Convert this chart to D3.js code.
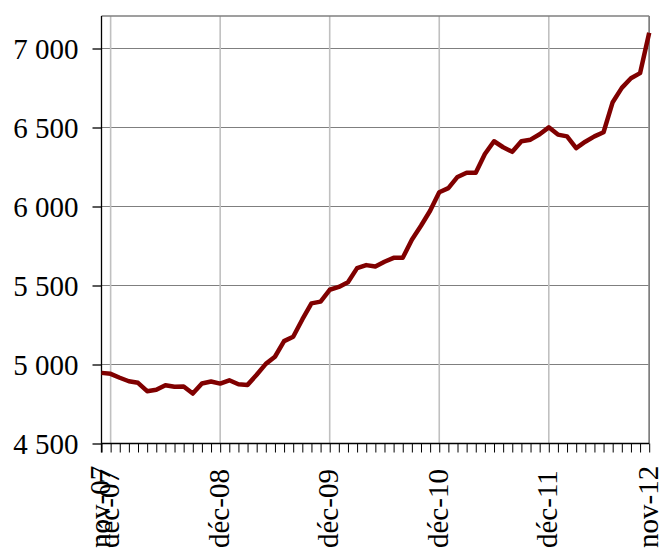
<!DOCTYPE html>
<html>
<head>
<meta charset="utf-8">
<script src="https://cdn.jsdelivr.net/npm/d3@7"></script>
<style>
  html, body { margin: 0; padding: 0; background: #fff; }
  svg { display: block; }
  text { font-family: "Liberation Serif", "Times New Roman", serif; fill: #000; }
</style>
</head>
<body>
<script>
const months = [
  "nov-07","déc-07",
  "janv-08","févr-08","mars-08","avr-08","mai-08","juin-08","juil-08","août-08","sept-08","oct-08","nov-08","déc-08",
  "janv-09","févr-09","mars-09","avr-09","mai-09","juin-09","juil-09","août-09","sept-09","oct-09","nov-09","déc-09",
  "janv-10","févr-10","mars-10","avr-10","mai-10","juin-10","juil-10","août-10","sept-10","oct-10","nov-10","déc-10",
  "janv-11","févr-11","mars-11","avr-11","mai-11","juin-11","juil-11","août-11","sept-11","oct-11","nov-11","déc-11",
  "janv-12","févr-12","mars-12","avr-12","mai-12","juin-12","juil-12","août-12","sept-12","oct-12","nov-12"
];
const values = [
  4947, 4941,
  4916, 4894, 4884, 4831, 4840, 4869, 4859, 4861, 4816, 4880, 4892, 4879,
  4900, 4875, 4871, 4935, 5004, 5049, 5148, 5176, 5285, 5387, 5398, 5473,
  5491, 5521, 5610, 5629, 5620, 5650, 5675, 5675, 5790, 5878, 5973, 6090,
  6116, 6187, 6214, 6214, 6332, 6413, 6375, 6346, 6413, 6423, 6457, 6501,
  6455, 6444, 6370, 6410, 6444, 6470, 6660, 6751, 6812, 6844, 7100
];
const shownLabels = ["nov-07","déc-07","déc-08","déc-09","déc-10","déc-11","nov-12"];
const gridMonths = ["déc-07","déc-08","déc-09","déc-10","déc-11","nov-12"];
const yTicks = [4500, 5000, 5500, 6000, 6500, 7000];

const W = 661, H = 553;
const pLeft = 101.5, pRight = 649.2, pTop = 16, pBottom = 443.5;

const svg = d3.select("body").append("svg").attr("width", W).attr("height", H);

const x = d3.scalePoint().domain(months).range([pLeft, pRight]);
const y = d3.scaleLinear().domain([4500, 7200]).range([pBottom, 16.9]);

const fmt = v => d3.format(",")(v).replace(",", " ");

// horizontal gridlines
svg.append("g").selectAll("line").data(yTicks.filter(v => v > 4500)).join("line")
  .attr("x1", pLeft).attr("x2", pRight)
  .attr("y1", d => y(d)).attr("y2", d => y(d))
  .attr("stroke", "#7f7f7f").attr("stroke-width", 1.2);

// vertical gridlines
svg.append("g").selectAll("line").data(gridMonths).join("line")
  .attr("x1", d => x(d)).attr("x2", d => x(d))
  .attr("y1", pTop).attr("y2", pBottom)
  .attr("stroke", "#c0c0c0").attr("stroke-width", 1.6);

// frame top & right
svg.append("line").attr("x1", pLeft).attr("x2", pRight).attr("y1", pTop).attr("y2", pTop)
  .attr("stroke", "#7f7f7f").attr("stroke-width", 1.6);
svg.append("line").attr("x1", pRight).attr("x2", pRight).attr("y1", pTop).attr("y2", pBottom)
  .attr("stroke", "#7f7f7f").attr("stroke-width", 1.6);

// y axis
const yAxis = d3.axisLeft(y).tickValues(yTicks).tickSize(9).tickPadding(14).tickFormat(fmt);
const gy = svg.append("g").attr("transform", `translate(${pLeft},0)`).call(yAxis);
gy.select(".domain").attr("stroke", "#000").attr("stroke-width", 1.3)
  .attr("d", `M0,${pTop}V${pBottom + 9}`);
gy.selectAll(".tick line").attr("stroke", "#000").attr("stroke-width", 1.3);
gy.selectAll(".tick text").attr("font-size", 29).attr("font-family", "Liberation Serif, Times New Roman, serif")
  .attr("dy", "0.34em");

// x axis
const xAxis = d3.axisBottom(x).tickSize(9).tickFormat("");
const gx = svg.append("g").attr("transform", `translate(0,${pBottom})`).call(xAxis);
gx.select(".domain").attr("stroke", "#000").attr("stroke-width", 1.3)
  .attr("d", `M${pLeft},0H${pRight}`);
gx.selectAll(".tick line").attr("stroke", "#000").attr("stroke-width", 1);

// x labels
svg.append("g").selectAll("text").data(shownLabels).join("text")
  .attr("transform", d => `translate(${x(d)},548) rotate(-90)`)
  .attr("text-anchor", "start")
  .attr("dy", "0.3em")
  .attr("font-size", 29)
  .text(d => d);

// line
const line = d3.line().x((d, i) => x(months[i])).y(d => y(d));
svg.append("path").datum(values)
  .attr("d", line)
  .attr("fill", "none")
  .attr("stroke", "#800000")
  .attr("stroke-width", 4.5)
  .attr("stroke-linejoin", "round");
</script>
</body>
</html>
